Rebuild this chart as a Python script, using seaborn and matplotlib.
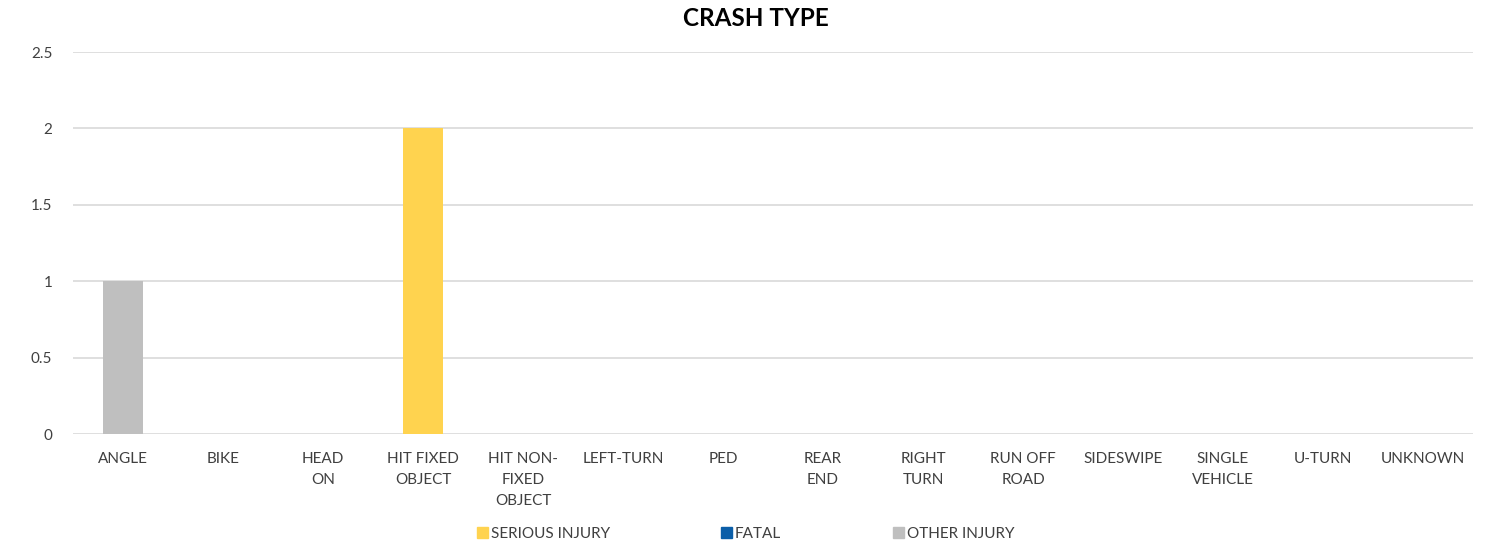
import pandas as pd
import numpy as np
import matplotlib
matplotlib.use("Agg")
import matplotlib.pyplot as plt
import seaborn as sns
from matplotlib.ticker import FuncFormatter

# Datos
tipos = ["ANGLE", "BIKE", "HEAD\nON", "HIT FIXED\nOBJECT", "HIT NON-\nFIXED\nOBJECT",
         "LEFT-TURN", "PED", "REAR\nEND", "RIGHT\nTURN", "RUN OFF\nROAD",
         "SIDESWIPE", "SINGLE\nVEHICLE", "U-TURN", "UNKNOWN"]
serious_injury = [0, 0, 0, 2, 0, 0, 0, 0, 0, 0, 0, 0, 0, 0]
fatal = [0, 0, 0, 0, 0, 0, 0, 0, 0, 0, 0, 0, 0, 0]
other_injury = [1, 0, 0, 0, 0, 0, 0, 0, 0, 0, 0, 0, 0, 0]

series = ["SERIOUS INJURY", "FATAL", "OTHER INJURY"]
colores = ["#FFD34F", "#0B5EA8", "#BFBFBF"]

df = pd.DataFrame({"tipo": tipos,
                   "SERIOUS INJURY": serious_injury,
                   "FATAL": fatal,
                   "OTHER INJURY": other_injury})
df_long = df.melt(id_vars="tipo", var_name="gravedad", value_name="n")

sns.set_style("white")
plt.rcParams["font.family"] = ["Lato", "DejaVu Sans"]

fig = plt.figure(figsize=(15, 5.44), dpi=100)
ax = fig.add_axes([0.0487, 0.2022, 0.9333, 0.7022])

# Barras apiladas (solo hay una serie distinta de cero por categoría)
sns.barplot(data=df_long, x="tipo", y="n", hue="gravedad", hue_order=series,
            palette=colores, saturation=1, dodge=False, width=0.4, linewidth=0,
            order=tipos, ax=ax, legend=False)

ax.set_ylim(0, 2.5)
ax.set_yticks(np.arange(0, 2.51, 0.5))
ax.yaxis.set_major_formatter(FuncFormatter(lambda v, p: f"{v:g}"))
ax.set_xlim(-0.5, len(tipos) - 0.5)
ax.grid(axis="y", color="#D9D9D9", linewidth=1.2)
ax.set_axisbelow(True)
for s in ax.spines.values():
    s.set_visible(False)
ax.tick_params(axis="both", length=0, labelsize=11, colors="#404040")
ax.tick_params(axis="y", pad=15)
ax.tick_params(axis="x", pad=13)
for t in ax.get_xticklabels():
    t.set_linespacing(1.62)
ax.set_xlabel("")
ax.set_ylabel("")

fig.suptitle("CRASH TYPE", x=0.504, y=0.987, fontsize=17.5, fontweight="bold",
             color="black", va="top")

handles = [plt.Rectangle((0, 0), 1, 1, color=c) for c in colores]
fig.legend(handles, series, loc="lower center", bbox_to_anchor=(0.497, -0.02),
           ncol=3, frameon=False, fontsize=11, handlelength=0.7, handleheight=0.7,
           handletextpad=0.2, columnspacing=7.3, labelcolor="#404040")

fig.savefig("out.png", dpi=100)
